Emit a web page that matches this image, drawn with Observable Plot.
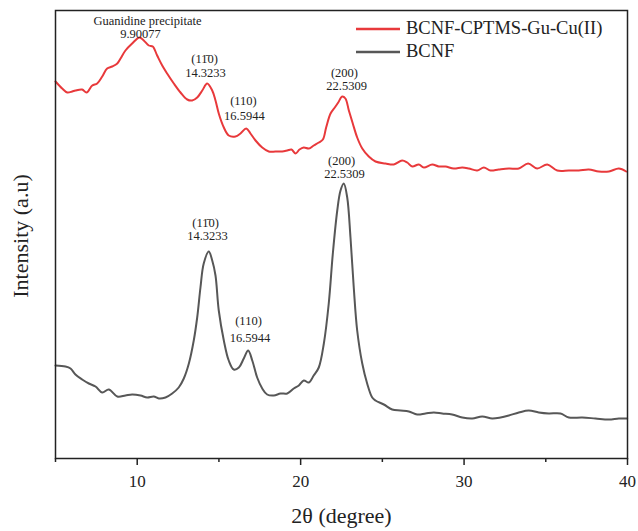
<!DOCTYPE html>
<html>
<head>
<meta charset="utf-8">
<script src="https://cdn.jsdelivr.net/npm/d3@7"></script>
<script src="https://cdn.jsdelivr.net/npm/@observablehq/plot@0.6"></script>
<style>
  body { margin: 0; background: white; }
  #wrap { position: relative; width: 638px; height: 531px; font-family: "Liberation Serif", "Times New Roman", serif; }
  #legend { position: absolute; left: 356px; top: 17px; font-size: 18.5px; color: #222; line-height: 23px; }
  #legend .row { display: flex; align-items: center; }
  #legend svg { margin-right: 6px; }
  #ylabel { position: absolute; left: 21px; top: 236px; transform: translate(-50%, -50%) rotate(-90deg); font-size: 22px; color: #222; white-space: nowrap; }
</style>
</head>
<body>
<div id="wrap">
  <div id="chart"></div>
  <div id="legend"></div>
  <div id="ylabel">Intensity (a.u)</div>
</div>
<script>
// Series names
const seriesNames = ["BCNF-CPTMS-Gu-Cu(II)", "BCNF"];
const seriesColors = ["#e8393b", "#575757"];

// BCNF-CPTMS-Gu-Cu(II): 2θ and intensity (a.u.)
const redX = [5.00,5.41,5.72,6.02,6.22,6.63,6.90,7.25,7.55,7.86,8.16,8.47,8.78,8.98,9.28,9.69,10.14,10.40,10.71,10.95,11.22,11.53,11.83,12.24,12.65,13.06,13.36,13.67,13.98,14.28,14.59,14.79,14.99,15.30,15.60,16.01,16.32,16.67,16.93,17.24,17.65,18.05,18.46,18.87,19.18,19.44,19.69,19.93,20.19,20.50,20.80,21.11,21.36,21.56,21.83,22.09,22.30,22.54,22.74,22.95,23.19,23.46,23.77,24.17,24.58,25.19,25.70,26.21,26.52,26.83,27.23,27.54,28.05,28.45,28.86,29.37,29.89,30.29,30.80,31.21,31.62,32.12,32.74,33.35,33.92,34.47,35.09,35.70,36.41,37.02,37.63,38.24,38.86,39.47,39.92];
const redY = [377,370,366,367,368,369,366,373,375,382,390,392,395,400,408,415,421,418,413,412,403,393,385,375,366,359,358,361,368,375,368,358,345,331,323,322,325,330,325,318,311,307,307,307,308,309,305,309,311,310,313,316,319,331,345,351,356,362,360,348,335,321,310,302,297,295,294,298,296,292,294,291,294,292,292,290,291,290,288,291,288,289,290,290,295,290,294,288,288,288,289,287,287,290,287];

// BCNF: 2θ and intensity (a.u.)
const blackX = [5.00,5.61,5.92,6.22,6.63,7.04,7.45,7.86,8.26,8.78,9.28,9.69,10.20,10.61,11.01,11.32,11.73,12.14,12.54,12.85,13.16,13.46,13.67,13.87,14.07,14.38,14.59,14.79,14.99,15.30,15.60,15.91,16.22,16.52,16.79,17.04,17.34,17.65,17.95,18.36,18.77,19.18,19.58,19.89,20.19,20.50,20.80,21.11,21.42,21.72,21.97,22.24,22.44,22.64,22.85,23.05,23.25,23.46,23.77,24.07,24.38,24.58,25.09,25.60,26.11,26.62,27.13,27.64,28.15,28.66,29.27,29.89,30.50,31.11,31.72,32.23,32.74,33.35,33.96,34.57,35.18,35.90,36.41,37.23,38.04,38.86,39.47,39.98];
const blackY = [93,92,90,84,79,75,72,66,69,62,63,64,63,61,62,60,61,65,71,80,95,118,141,171,195,207,198,183,148,118,98,89,91,100,108,98,81,70,64,63,65,65,70,73,78,76,83,91,115,155,205,248,268,275,261,221,171,128,95,75,61,58,54,49,48,47,44,45,46,45,44,41,40,42,40,41,43,46,48,46,45,45,41,41,40,39,40,40];

// Peak annotations (text, 2θ, intensity)
const annText = ["Guanidine precipitate","9.90077","(11\u03040)","14.3233","(110)","16.5944","(200)","22.5309","(200)","22.5309","(11\u03040)","14.3233","(110)","16.5944"];
const annX = [10.63,10.20,14.12,14.18,16.50,16.56,22.68,22.81,22.50,22.68,14.18,14.30,16.81,16.90];
const annY = [438,425,400,386,358,343,386,373,298,285,236,223,138,121];

// Axis ticks
const majorTicks = [10, 20, 30, 40];
const minorTicks = [5, 15, 25, 35];

const rows = [
  ...redX.map((x, i) => ({x, y: redY[i], s: seriesNames[0]})),
  ...blackX.map((x, i) => ({x, y: blackY[i], s: seriesNames[1]}))
];
const ann = annText.map((t, i) => ({t, x: annX[i], y: annY[i]}));

const chart = Plot.plot({
  width: 638,
  height: 531,
  marginLeft: 55,
  marginRight: 11,
  marginTop: 10,
  marginBottom: 73,
  style: {fontFamily: "Liberation Serif, Times New Roman, serif", background: "white", color: "#222"},
  x: {domain: [5, 40]},
  y: {domain: [0, 448]},
  color: {domain: seriesNames, range: seriesColors},
  marks: [
    Plot.line(rows, {x: "x", y: "y", z: "s", stroke: "s", strokeWidth: 2, curve: "catmull-rom"}),
    Plot.text(ann, {x: "x", y: "y", text: "t", fontSize: 12.5, fill: "#222"}),
    Plot.frame({stroke: "#222", strokeWidth: 1.5}),
    Plot.axisX({ticks: majorTicks, tickSize: 7, tickPadding: 9, fontSize: 17, strokeWidth: 1.5, label: null}),
    Plot.axisX({ticks: minorTicks, tickSize: 4, tickFormat: () => "", strokeWidth: 1.5, label: null}),
    Plot.axisY({ticks: [], label: null}),
    Plot.text(["2θ (degree)"], {frameAnchor: "bottom", dy: 64, fontSize: 22, fill: "#222"})
  ]
});
document.getElementById("chart").appendChild(chart);

const legend = document.getElementById("legend");
seriesNames.forEach((name, i) => {
  const row = document.createElement("div");
  row.className = "row";
  row.innerHTML = `<svg width="44" height="10"><line x1="0" x2="44" y1="5" y2="5" stroke="${seriesColors[i]}" stroke-width="2.5"/></svg><span>${name}</span>`;
  legend.appendChild(row);
});
</script>
</body>
</html>
